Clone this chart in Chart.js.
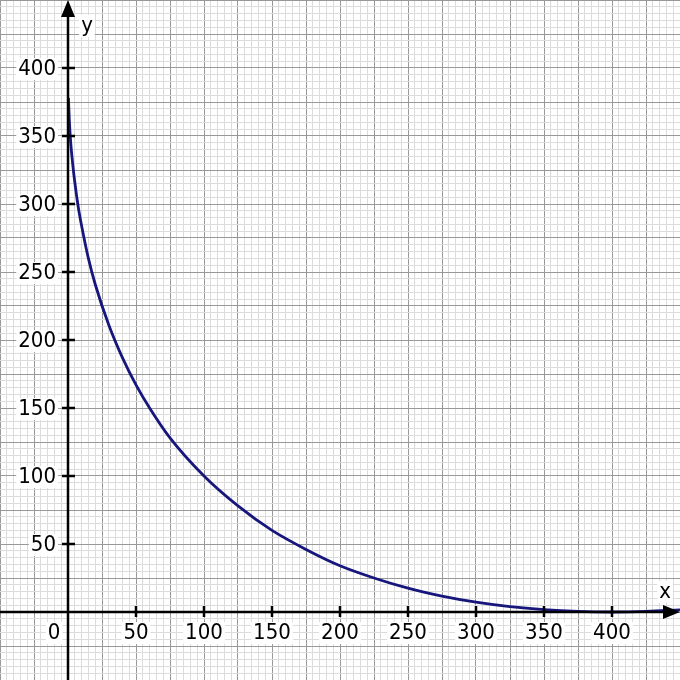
<!DOCTYPE html>
<html>
<head>
<meta charset="utf-8">
<script src="https://cdn.jsdelivr.net/npm/chart.js@4.4.1/dist/chart.umd.min.js"></script>
<style>
  html, body { margin: 0; padding: 0; background: #fff; }
  #wrap { width: 680px; height: 680px; }
</style>
</head>
<body>
<div id="wrap"><canvas id="graf"></canvas></div>
<script>
// valores
const xs = [0.3, 1, 2, 3.5, 5, 7.5, 10, 15, 20, 30, 40, 50, 60, 75, 100, 125, 150, 175, 200, 225, 250, 275, 300, 325, 350, 375, 400, 425, 450]
const ys = [378, 361, 345, 329, 316, 298, 284, 260, 241, 211, 187, 167, 150, 128, 100, 78, 60, 46, 34, 25, 17.5, 11.7, 7.2, 3.9, 1.7, 0.4, 0, 0.4, 1.5]

const xTicks = [50, 100, 150, 200, 250, 300, 350, 400]
const yTicks = [50, 100, 150, 200, 250, 300, 350, 400]

const range = [-50, 450]
const passoFino = 5
const passoGrosso = 25

const fonte = '22px "DejaVu Sans Condensed", "Liberation Sans", sans-serif'

const grade = []
for (let v = range[0]; v <= range[1]; v += passoFino) grade.push({ value: v })

const corGrade = (ctx) => {
    const v = ctx.tick ? ctx.tick.value : 0
    return v % passoGrosso === 0 ? '#999999' : '#dcdcdc'
}

// eixos, setas e rótulos
const eixos = {
    id: 'eixos',
    afterDatasetsDraw(chart) {
        const ctx = chart.ctx
        const sx = chart.scales.x
        const sy = chart.scales.y
        const ox = sx.getPixelForValue(0)
        const oy = sy.getPixelForValue(0)
        const w = chart.width
        ctx.save()
        ctx.strokeStyle = '#000'
        ctx.fillStyle = '#000'
        ctx.lineWidth = 2.5

        ctx.beginPath()
        ctx.moveTo(0, oy); ctx.lineTo(w - 12, oy)
        ctx.moveTo(ox, chart.height); ctx.lineTo(ox, 12)
        xTicks.forEach(t => {
            const p = sx.getPixelForValue(t)
            ctx.moveTo(p, oy - 6); ctx.lineTo(p, oy + 5)
        })
        yTicks.forEach(t => {
            const p = sy.getPixelForValue(t)
            ctx.moveTo(ox - 6, p); ctx.lineTo(ox + 7, p)
        })
        ctx.stroke()

        ctx.beginPath()
        ctx.moveTo(ox, 0); ctx.lineTo(ox - 7, 17); ctx.lineTo(ox + 7, 17); ctx.closePath()
        ctx.moveTo(w, oy); ctx.lineTo(w - 17, oy - 7); ctx.lineTo(w - 17, oy + 7); ctx.closePath()
        ctx.fill()

        ctx.font = fonte
        const rotulo = (txt, x, y, alinh) => {
            ctx.textAlign = alinh
            ctx.textBaseline = 'middle'
            const m = ctx.measureText(txt).width
            const x0 = alinh === 'right' ? x - m : x - m / 2
            ctx.fillStyle = '#fff'
            ctx.fillRect(x0 - 2, y - 11, m + 4, 22)
            ctx.fillStyle = '#000'
            ctx.fillText(txt, x, y)
        }
        xTicks.forEach(t => rotulo(String(t), sx.getPixelForValue(t), oy + 21, 'center'))
        yTicks.forEach(t => rotulo(String(t), ox - 12, sy.getPixelForValue(t) + 1, 'right'))
        rotulo('0', ox - 14, oy + 21, 'center')
        rotulo('y', ox + 19, 26, 'center')
        rotulo('x', w - 15, oy - 20, 'center')
        ctx.restore()
    }
}

const config = {
    type: 'line',
    data: {
        datasets: [{
            data: xs.map((x, i) => ({ x: x, y: ys[i] })),
            borderColor: '#16167c',
            borderWidth: 2.8,
            pointRadius: 0,
            cubicInterpolationMode: 'monotone',
            fill: false
        }]
    },
    options: {
        responsive: true,
        maintainAspectRatio: false,
        animation: false,
        layout: { padding: 0 },
        plugins: { legend: { display: false }, tooltip: { enabled: false } },
        scales: {
            x: {
                type: 'linear',
                min: range[0], max: range[1],
                afterBuildTicks: (axis) => { axis.ticks = grade.map(t => ({ value: t.value })) },
                ticks: { display: false },
                border: { display: false },
                grid: { color: corGrade, lineWidth: 1, drawTicks: false }
            },
            y: {
                type: 'linear',
                min: range[0], max: range[1],
                afterBuildTicks: (axis) => { axis.ticks = grade.map(t => ({ value: t.value })) },
                ticks: { display: false },
                border: { display: false },
                grid: { color: corGrade, lineWidth: 1, drawTicks: false }
            }
        }
    },
    plugins: [eixos]
}

new Chart(document.getElementById('graf'), config)
</script>
</body>
</html>
